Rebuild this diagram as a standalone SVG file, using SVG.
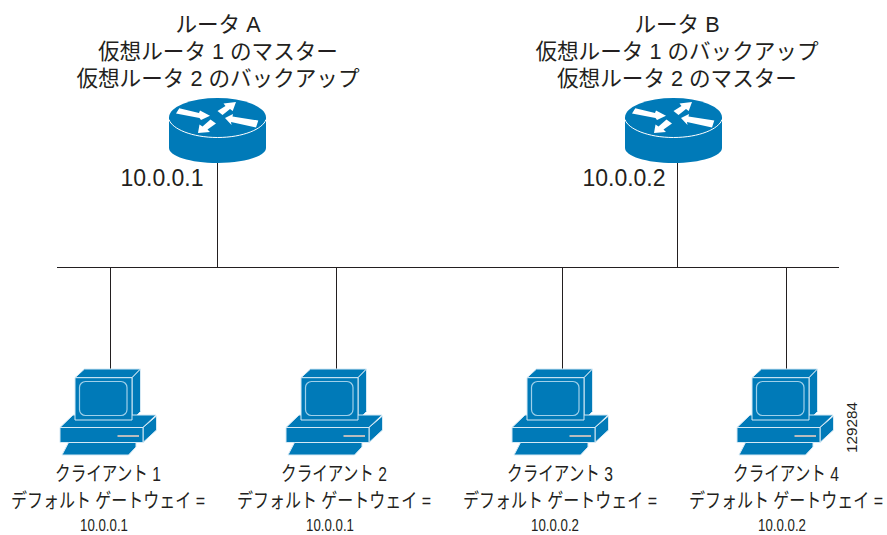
<svg xmlns="http://www.w3.org/2000/svg" width="887" height="535" viewBox="0 0 887 535">
<style>
text{font-family:"Liberation Sans","Noto Sans CJK JP",sans-serif;fill:#231f20;text-anchor:middle}
.t{font-size:21.600px}
.n{font-size:23px}
.c{font-size:20px}
.d{font-size:17px}
.ln{stroke:#231f20;stroke-width:1;fill:none}
.b{fill:#007ab8}
.w{fill:#fff}
.e{fill:#007ab8;stroke:#d5e9f5;stroke-width:1;stroke-linejoin:round}
</style>
<defs>
<g id="router">
<path class="b" d="M169 117.500V148C169 156 190 163 217.500 163S266 156 266 148V117.500Z"/>
<ellipse class="b" cx="217.500" cy="117.500" rx="48.500" ry="19.500"/>
<path d="M169 119.500C172 129 192 137.500 217.500 137.500S263 129 266 119.500" fill="none" stroke="#fff" stroke-width="1"/>
<polygon class="w" points="179.300,108.300 199,113 200,110.500 210,115.700 201,120 199.500,118 176,113.500"/>
<polygon class="w" points="236,102 232.700,111 230,109 222.500,115 217.500,111 225.500,106 223.500,103.500"/>
<polygon class="w" points="225,118 233,114 232.500,116.500 258.300,120.500 256,127.500 231,122 231.500,125"/>
<polygon class="w" points="198,133 199.500,124.500 202.500,126.500 210.500,119.500 216,123.500 207.500,129.500 210,132"/>
</g>
<g id="pc">
<polygon class="e" points="75,377.700 84.500,369 140.500,369 132,377.700"/>
<polygon class="e" points="132,377.700 140.500,369 140.500,411.500 132,420"/>
<polygon class="e" points="60,427.500 73,415 156,415 143,427.500"/>
<polygon class="e" points="143,427.500 156.500,416 156.500,430 143,442.500"/>
<rect class="e" x="60" y="427.500" width="83" height="15"/>
<rect x="117.500" y="435" width="21.500" height="2" fill="#b9bcbe"/>
<rect class="e" x="75" y="377.700" width="57" height="42.300"/>
<rect x="79.500" y="381.500" width="47.500" height="34" rx="6" fill="none" stroke="#9fd0ea" stroke-width="1.200"/>
<polygon class="e" points="68.500,442.500 136,442.500 136,447 128.500,455 62,455"/>
</g>
</defs>
<g id="connectors" class="ln">
<line x1="57" y1="267.500" x2="839" y2="267.500"/>
<line x1="217.500" y1="163" x2="217.500" y2="267"/>
<line x1="677.500" y1="163" x2="677.500" y2="267"/>
<line x1="110.500" y1="267" x2="110.500" y2="369"/>
<line x1="336.500" y1="267" x2="336.500" y2="369"/>
<line x1="562.500" y1="267" x2="562.500" y2="369"/>
<line x1="786.500" y1="267" x2="786.500" y2="369"/>
</g>
<g id="routerA">
<use href="#router"/>
<text class="t" x="218" y="32">ルータ A</text>
<text class="t" x="218" y="59">仮想ルータ 1 のマスター</text>
<text class="t" x="218" y="86">仮想ルータ 2 のバックアップ</text>
<text class="n" x="162" y="186">10.0.0.1</text>
</g>
<g id="routerB">
<use href="#router" x="456"/>
<text class="t" x="677" y="32">ルータ B</text>
<text class="t" x="677" y="59">仮想ルータ 1 のバックアップ</text>
<text class="t" x="677" y="86">仮想ルータ 2 のマスター</text>
<text class="n" x="624" y="186">10.0.0.2</text>
</g>
<g id="client1">
<use href="#pc"/>
<text class="c" transform="translate(108 481) scale(.78 1)">クライアント 1</text>
<text class="c" transform="translate(108 507.500) scale(.8 1)">デフォルト ゲートウェイ =</text>
<text class="d" transform="translate(104 531) scale(.78 1)">10.0.0.1</text>
</g>
<g id="client2">
<use href="#pc" x="226"/>
<text class="c" transform="translate(334 481) scale(.78 1)">クライアント 2</text>
<text class="c" transform="translate(334 507.500) scale(.8 1)">デフォルト ゲートウェイ =</text>
<text class="d" transform="translate(330 531) scale(.78 1)">10.0.0.1</text>
</g>
<g id="client3">
<use href="#pc" x="452"/>
<text class="c" transform="translate(560 481) scale(.78 1)">クライアント 3</text>
<text class="c" transform="translate(560 507.500) scale(.8 1)">デフォルト ゲートウェイ =</text>
<text class="d" transform="translate(555 531) scale(.78 1)">10.0.0.2</text>
</g>
<g id="client4">
<use href="#pc" x="677"/>
<text class="c" transform="translate(786 481) scale(.78 1)">クライアント 4</text>
<text class="c" transform="translate(786 507.500) scale(.8 1)">デフォルト ゲートウェイ =</text>
<text class="d" transform="translate(782 531) scale(.78 1)">10.0.0.2</text>
</g>
<text transform="translate(857 427.500) rotate(-90)" style="font-size:15.300px">129284</text>
</svg>
